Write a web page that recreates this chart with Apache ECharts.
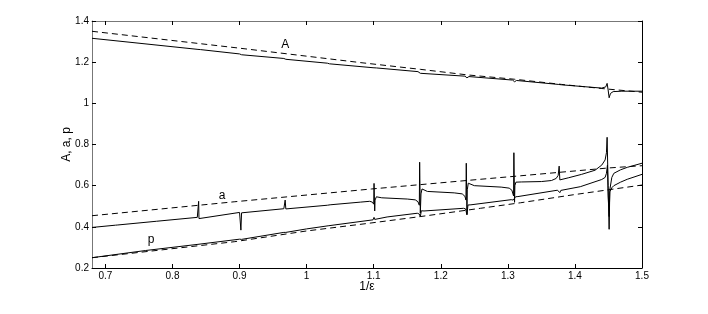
<!DOCTYPE html>
<html>
<head>
<meta charset="utf-8">
<script src="https://cdn.jsdelivr.net/npm/echarts@6/dist/echarts.min.js"></script>
<style>html,body{margin:0;padding:0;background:#fff}#c{width:708px;height:314px}</style>
</head>
<body>
<div id="c"></div>
<script>
// tick labels
const xTicks = [0.7, 0.8, 0.9, 1.0, 1.1, 1.2, 1.3, 1.4, 1.5];
const yTicks = [0.2, 0.4, 0.6, 0.8, 1.0, 1.2, 1.4];
// series values [1/eps, value]
const ADashed = [[0.68,1.350],[0.9,1.268],[1.08,1.198],[1.17,1.165],[1.24,1.138],[1.31,1.117],[1.38,1.092],[1.44,1.072],[1.5,1.054]];
const ASolid = [[0.68,1.316],[0.838,1.262],[0.839,1.266],[0.840,1.258],[0.842,1.261],
 [0.900,1.240],[0.902,1.244],[0.903,1.236],[0.905,1.239],
 [0.966,1.218],[0.968,1.222],[0.969,1.214],[0.971,1.217],
 [1.031,1.195],[1.033,1.199],[1.034,1.192],[1.036,1.194],
 [1.099,1.173],[1.1005,1.178],[1.1015,1.168],[1.104,1.172],
 [1.166,1.154],[1.1685,1.162],[1.1695,1.146],[1.172,1.152],
 [1.236,1.132],[1.238,1.141],[1.239,1.124],[1.242,1.130],
 [1.307,1.113],[1.309,1.122],[1.310,1.105],[1.313,1.111],
 [1.375,1.092],[1.3765,1.097],[1.3775,1.088],[1.380,1.090],
 [1.44,1.074],[1.446,1.080],[1.448,1.097],[1.4495,1.065],[1.451,1.027],[1.453,1.048],[1.457,1.057],[1.47,1.059],[1.5,1.059]];
const aDashed = [[0.68,0.454],[0.893,0.522],[1.097,0.584],[1.259,0.631],[1.319,0.648],[1.45,0.686],[1.5,0.697]];
const aSolid = [[0.68,0.397],[0.715,0.408],[0.717,0.402],[0.7185,0.409],[0.776,0.427],[0.777,0.432],[0.778,0.427],
 [0.837,0.446],[0.8385,0.449],[0.839,0.524],[0.8395,0.440],[0.841,0.446],
 [0.900,0.470],[0.901,0.478],[0.902,0.384],[0.903,0.468],[0.905,0.474],
 [0.966,0.488],[0.967,0.482],[0.968,0.530],[0.969,0.487],[0.971,0.490],
 [1.031,0.505],[1.032,0.513],[1.033,0.500],[1.035,0.507],
 [1.08,0.520],[1.094,0.524],[1.098,0.520],[1.1,0.510],[1.1005,0.611],[1.1015,0.477],[1.102,0.53],[1.104,0.546],[1.112,0.541],[1.15,0.535],[1.162,0.531],[1.166,0.522],[1.168,0.505],
 [1.1685,0.714],[1.1695,0.466],[1.1705,0.56],[1.172,0.584],[1.18,0.572],[1.22,0.565],[1.232,0.560],[1.236,0.548],[1.2375,0.530],
 [1.238,0.709],[1.239,0.461],[1.2395,0.58],[1.241,0.612],[1.25,0.600],[1.29,0.593],[1.302,0.588],[1.306,0.578],[1.3085,0.55],
 [1.309,0.760],[1.310,0.519],[1.3105,0.60],[1.312,0.617],[1.32,0.618],[1.35,0.620],[1.365,0.625],[1.372,0.635],[1.375,0.650],
 [1.3765,0.695],[1.3775,0.628],[1.38,0.627],[1.39,0.638],[1.41,0.655],[1.43,0.675],[1.44,0.700],[1.445,0.725],[1.447,0.760],
 [1.448,0.835],[1.4495,0.60],[1.451,0.388],[1.452,0.58],[1.455,0.64],[1.458,0.660],[1.468,0.677],[1.478,0.689],[1.5,0.709]];
const pDashed = [[0.68,0.250],[0.893,0.328],[1.0,0.380],[1.092,0.417],[1.17,0.450],[1.259,0.490],[1.319,0.517],[1.398,0.556],[1.5,0.603]];
const pSolid = [[0.68,0.250],[0.76,0.285],[0.838,0.315],[0.839,0.323],[0.840,0.315],[0.90,0.340],[0.902,0.346],[0.903,0.339],
 [0.966,0.373],[0.968,0.380],[0.969,0.373],[1.0,0.390],[1.032,0.405],[1.033,0.410],[1.034,0.405],
 [1.099,0.434],[1.1005,0.446],[1.1015,0.436],[1.103,0.440],[1.12,0.448],[1.165,0.466],[1.168,0.462],[1.1695,0.449],[1.171,0.478],[1.175,0.477],
 [1.234,0.490],[1.237,0.487],[1.239,0.458],[1.2405,0.506],[1.245,0.507],[1.305,0.532],[1.308,0.530],[1.310,0.522],[1.3115,0.546],[1.315,0.547],
 [1.374,0.578],[1.3765,0.580],[1.3775,0.566],[1.379,0.577],[1.408,0.595],[1.44,0.630],[1.445,0.640],[1.447,0.66],[1.4485,0.70],[1.4495,0.55],[1.451,0.45],
 [1.452,0.57],[1.455,0.59],[1.458,0.600],[1.468,0.617],[1.478,0.631],[1.5,0.655]];
// curve labels
const curveLabels = [{name:'A', value:[0.968,1.287]}, {name:'a', value:[0.874,0.550]}, {name:'p', value:[0.768,0.339]}];

const FONT = '"Liberation Sans", Arial, Helvetica, sans-serif';
const chart = echarts.init(document.getElementById('c'), null, {renderer:'canvas'});
const lineSeries = (data, dashed) => ({
  type:'line', data, showSymbol:false, symbol:'none', animation:false, sampling:null,
  lineStyle:{color:'#000', width:1, type: dashed ? [6,4] : 'solid'}, z: dashed ? 2 : 3
});
const fmt = v => String(Math.round(v*10)/10);
chart.setOption({
  animation:false,
  grid:{left:92, right:66, top:21, bottom:46, containLabel:false},
  xAxis:[
    {type:'value', min:0.68, max:1.5, position:'bottom',
     name:'1/ε', nameLocation:'middle', nameGap:13, nameMoveOverlap:false,
     nameTextStyle:{fontFamily:FONT, fontSize:12, color:'#000', verticalAlign:'top'},
     axisLine:{lineStyle:{color:'#000', width:1}},
     axisTick:{inside:true, length:4, customValues:xTicks, lineStyle:{color:'#000'}},
     axisLabel:{customValues:xTicks, formatter:fmt, fontFamily:FONT, fontSize:10, color:'#000', margin:3},
     splitLine:{show:false}},
    {type:'value', min:0.68, max:1.5, position:'top',
     axisLine:{lineStyle:{color:'#777', width:1}},
     axisTick:{inside:true, length:4, customValues:xTicks, lineStyle:{color:'#000'}},
     axisLabel:{show:false}, splitLine:{show:false}}
  ],
  yAxis:[
    {type:'value', min:0.2, max:1.4, interval:0.2, position:'left',
     name:'A, a, p', nameLocation:'middle', nameGap:25, nameRotate:90, nameMoveOverlap:false,
     nameTextStyle:{fontFamily:FONT, fontSize:12, color:'#000', verticalAlign:'middle'},
     axisLine:{show:true, lineStyle:{color:'#777', width:1}},
     axisTick:{show:true, inside:true, length:4, lineStyle:{color:'#000'}},
     axisLabel:{fontFamily:FONT, fontSize:10, color:'#000', margin:3,
       customValues:yTicks, formatter:fmt},
     splitLine:{show:false}},
    {type:'value', min:0.2, max:1.4, interval:0.2, position:'right',
     axisLine:{show:true, lineStyle:{color:'#000', width:1}},
     axisTick:{show:true, inside:true, length:4, lineStyle:{color:'#000'}},
     axisLabel:{show:false}, splitLine:{show:false}}
  ],
  series:[
    lineSeries(ADashed, true), lineSeries(ASolid, false),
    lineSeries(aDashed, true), lineSeries(aSolid, false),
    lineSeries(pDashed, true), lineSeries(pSolid, false),
    {type:'scatter', data:curveLabels, symbol:'circle', symbolSize:2, itemStyle:{color:'#fff', opacity:1}, animation:false, z:1,
     emphasis:{disabled:true},
     label:{show:true, position:'inside', formatter:'{b}', fontFamily:FONT, fontSize:12, color:'#000', opacity:1, textBorderWidth:0}}
  ]
});
</script>
</body>
</html>
